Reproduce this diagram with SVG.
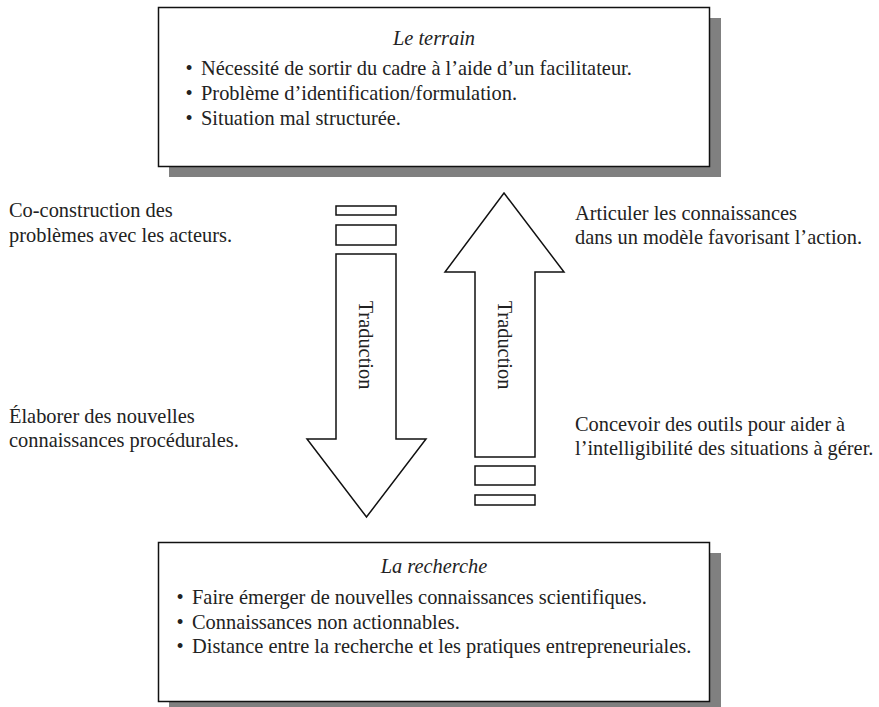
<svg xmlns="http://www.w3.org/2000/svg" width="879" height="707" viewBox="0 0 879 707" font-family="'Liberation Serif', 'DejaVu Serif', serif">
<style>
text{font-family:"Liberation Serif","DejaVu Serif",serif;font-size:20.4px;fill:#222}
.it{font-style:italic}
.box{fill:#fff;stroke:#111;stroke-width:1.5}
.shadow{fill:#808080}
.arr{fill:#fff;stroke:#111;stroke-width:1.5;stroke-linejoin:miter}
</style>
<rect width="879" height="707" fill="#fff"/>
<g id="terrain">
<rect class="shadow" x="169" y="18" width="552" height="159"/>
<rect class="box" x="158.5" y="7.5" width="551" height="159"/>
<text class="it" x="434" y="45" text-anchor="middle">Le terrain</text>
<text x="185.5" y="74.5">•</text><text x="201" y="74.5">Nécessité de sortir du cadre à l’aide d’un facilitateur.</text>
<text x="185.5" y="100">•</text><text x="201" y="100">Problème d’identification/formulation.</text>
<text x="185.5" y="125">•</text><text x="201" y="125">Situation mal structurée.</text>
</g>
<g id="recherche">
<rect class="shadow" x="169" y="553" width="552" height="159"/>
<rect class="box" x="158.5" y="542.5" width="551" height="159"/>
<text class="it" x="434" y="573" text-anchor="middle">La recherche</text>
<text x="176.5" y="603.5">•</text><text x="192" y="603.5">Faire émerger de nouvelles connaissances scientifiques.</text>
<text x="176.5" y="628.5">•</text><text x="192" y="628.5">Connaissances non actionnables.</text>
<text x="176.5" y="653">•</text><text x="192" y="653">Distance entre la recherche et les pratiques entrepreneuriales.</text>
</g>
<g id="connectors">
<g id="arrow-down">
<rect class="arr" x="336" y="206" width="60" height="9"/>
<rect class="arr" x="336" y="225" width="60" height="20"/>
<polygon class="arr" points="336,254 396,254 396,439 426,439 366.5,517 307,439 336,439"/>
<text transform="translate(359,345) rotate(90)" text-anchor="middle">Traduction</text>
</g>
<g id="arrow-up">
<polygon class="arr" points="504,193 564,272 535,272 535,457 475,457 475,272 445,272"/>
<rect class="arr" x="475" y="466" width="60" height="19"/>
<rect class="arr" x="475" y="495" width="60" height="10"/>
<text transform="translate(497.5,345) rotate(90)" text-anchor="middle">Traduction</text>
</g>
</g>
<g id="labels">
<text x="9" y="217">Co-construction des</text>
<text x="9" y="242">problèmes avec les acteurs.</text>
<text x="9" y="423">Élaborer des nouvelles</text>
<text x="9" y="447">connaissances procédurales.</text>
<text x="575" y="220">Articuler les connaissances</text>
<text x="575" y="244">dans un modèle favorisant l’action.</text>
<text x="575" y="431">Concevoir des outils pour aider à</text>
<text x="575" y="455">l’intelligibilité des situations à gérer.</text>
</g>
</svg>
